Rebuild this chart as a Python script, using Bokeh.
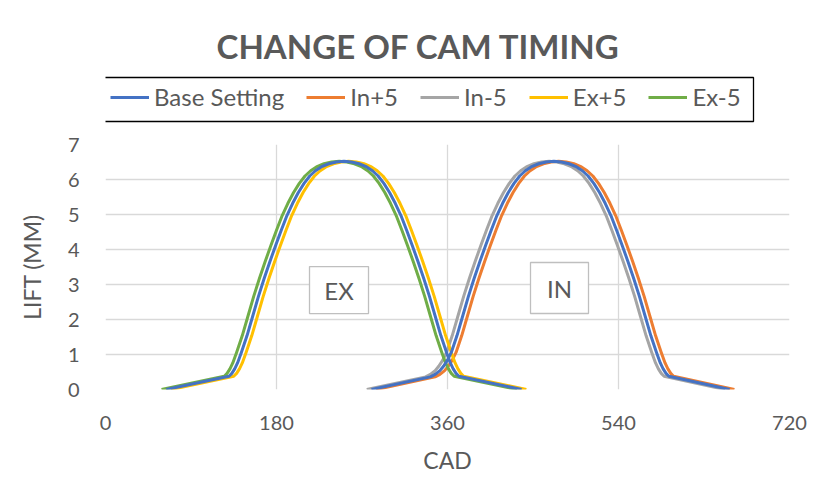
from bokeh.plotting import figure
from bokeh.models import Legend, LegendItem, Label, FixedTicker, Range1d
from bokeh.layouts import column
from bokeh.embed import file_html
from bokeh.resources import INLINE

# ---- data ----
ex_lift = [0, 0.38, 0.46, 0.59, 0.76, 1.06, 1.54, 2.10, 2.66, 3.17, 3.65, 4.11, 4.55, 4.97, 5.32, 5.63,
           5.89, 6.10, 6.25, 6.36, 6.45, 6.50, 6.52,
           6.50, 6.45, 6.36, 6.25, 6.10, 5.89, 5.63, 5.32, 4.97, 4.55, 4.11, 3.65, 3.17, 2.66, 2.10,
           1.54, 1.06, 0.76, 0.59, 0.46, 0.38, 0]
in_lift = [0, 0.36, 0.43, 0.54, 0.67, 0.84, 1.06, 1.54, 2.10, 2.66, 3.17, 3.65, 4.11, 4.55, 4.97, 5.32, 5.63,
           5.89, 6.10, 6.25, 6.36, 6.45, 6.50, 6.52,
           6.50, 6.45, 6.36, 6.25, 6.10, 5.89, 5.63, 5.32, 4.97, 4.55, 4.11, 3.65, 3.17, 2.66, 2.10,
           1.54, 1.06, 0.76, 0.59, 0.46, 0.38, 0]

base_ex_cad = [64, 130, 133, 136, 139, 143, 149, 155, 161, 167, 173, 179, 185, 191, 197, 203, 209, 215, 221,
               227, 235, 243, 251,
               259, 267, 275, 281, 287, 293, 299, 305, 311, 317, 323, 329, 335, 341, 347, 353, 359, 363,
               366, 369, 372, 438]
ex_p5_cad = [69, 135, 138, 141, 144, 148, 154, 160, 166, 172, 178, 184, 190, 196, 202, 208, 214, 220, 226,
             232, 240, 248, 256,
             264, 272, 280, 286, 292, 298, 304, 310, 316, 322, 328, 334, 340, 346, 352, 358, 364, 368,
             371, 374, 377, 443]
ex_m5_cad = [59, 125, 128, 131, 134, 138, 144, 150, 156, 162, 168, 174, 180, 186, 192, 198, 204, 210, 216,
             222, 230, 238, 246,
             254, 262, 270, 276, 282, 288, 294, 300, 306, 312, 318, 324, 330, 336, 342, 348, 354, 358,
             361, 364, 367, 433]
base_in_cad = [280, 342, 347, 352, 356, 360, 364, 370, 376, 382, 388, 394, 400, 406, 412, 418, 424, 430, 436,
               442, 448, 456, 464, 472,
               480, 488, 496, 502, 508, 514, 520, 526, 532, 538, 544, 550, 556, 562, 568, 574, 580, 584,
               587, 590, 593, 657]
in_p5_cad = [285, 347, 352, 357, 361, 365, 369, 375, 381, 387, 393, 399, 405, 411, 417, 423, 429, 435, 441,
             447, 453, 461, 469, 477,
             485, 493, 501, 507, 513, 519, 525, 531, 537, 543, 549, 555, 561, 567, 573, 579, 585, 589,
             592, 595, 598, 662]
in_m5_cad = [275, 337, 342, 347, 351, 355, 359, 365, 371, 377, 383, 389, 395, 401, 407, 413, 419, 425, 431,
             437, 443, 451, 459, 467,
             475, 483, 491, 497, 503, 509, 515, 521, 527, 533, 539, 545, 551, 557, 563, 569, 575, 579,
             582, 585, 588, 652]

series_names = ["Base Setting", "In+5", "In-5", "Ex+5", "Ex-5"]
x_ticks = [0, 180, 360, 540, 720]
y_ticks = [0, 1, 2, 3, 4, 5, 6, 7]

# ---- styling ----
FONT = "Lato"
TXT = "#595959"
GRID = "#D9D9D9"
colors = {"Base Setting": "#4472C4", "In+5": "#ED7D31", "In-5": "#A5A5A5", "Ex+5": "#FFC000", "Ex-5": "#70AD47"}
W = 809
HEAD_H = 130
LEFT, RIGHT = 105, 20

# ---- header: title + legend (pixel-space figure, frame aligned with main chart) ----
hd = figure(width=W, height=HEAD_H, x_range=Range1d(LEFT, W - RIGHT), y_range=Range1d(0, HEAD_H),
            x_axis_type=None, y_axis_type=None, output_backend="svg", toolbar_location=None,
            min_border_left=LEFT, min_border_right=RIGHT, min_border_top=0, min_border_bottom=0)
hd.outline_line_color = None
hd.add_layout(Label(x=418, y=HEAD_H - 45, text="CHANGE OF CAM TIMING", text_font=FONT, text_font_size="33px",
                    text_font_style="bold", text_color=TXT, text_align="center", text_baseline="middle"))
hd.rect(x=[419], y=[HEAD_H - 99], width=668, height=44, fill_color="white", line_color="black", line_width=1.3)
nan = float("nan")
proxy = {n: hd.line(x=[nan, nan], y=[nan, nan], line_color=colors[n], line_width=3) for n in series_names}
legend = Legend(items=[LegendItem(label=n, renderers=[proxy[n]]) for n in series_names],
                orientation="horizontal", location=(110 - LEFT, HEAD_H - 99 - 12),
                label_text_font=FONT, label_text_font_size="24px", label_text_color=TXT,
                label_height=24, glyph_width=39, glyph_height=24, label_standoff=5, spacing=22, padding=0,
                margin=0, border_line_color=None, background_fill_alpha=0)
hd.add_layout(legend)

# ---- main chart ----
p = figure(width=W, height=353, x_range=Range1d(0, 720), y_range=Range1d(0, 7),
           output_backend="svg", toolbar_location=None,
           min_border_left=LEFT, min_border_right=RIGHT, min_border_top=14, min_border_bottom=94)
p.outline_line_color = None

p.xaxis.ticker = FixedTicker(ticks=x_ticks)
p.yaxis.ticker = FixedTicker(ticks=y_ticks)
for ax in (p.xaxis[0], p.yaxis[0]):
    ax.axis_line_color = None
    ax.major_tick_line_color = None
    ax.minor_tick_line_color = None
    ax.major_label_text_font = FONT
    ax.major_label_text_font_size = "20px"
    ax.major_label_text_color = TXT
    ax.axis_label_text_font = FONT
    ax.axis_label_text_font_size = "23px"
    ax.axis_label_text_font_style = "normal"
    ax.axis_label_text_color = TXT
p.xaxis.axis_label = "CAD"
p.yaxis.axis_label = "LIFT (MM)"
p.xaxis.major_label_standoff = 20
p.yaxis.major_label_standoff = 20
p.xaxis.axis_label_standoff = 13
p.yaxis.axis_label_standoff = 19

p.xgrid.ticker = FixedTicker(ticks=x_ticks)
p.ygrid.ticker = FixedTicker(ticks=y_ticks)
p.grid.grid_line_color = GRID
p.grid.grid_line_width = 1.3

# label boxes
p.rect(x=[245.8], y=[2.84], width=59, height=47, width_units="screen", height_units="screen",
       fill_color="white", line_color="#BFBFBF", line_width=1.3)
p.rect(x=[477.9], y=[2.9], width=58, height=51, width_units="screen", height_units="screen",
       fill_color="white", line_color="#BFBFBF", line_width=1.3)
p.add_layout(Label(x=245.8, y=2.84, text="EX", text_font=FONT, text_font_size="24px", text_color=TXT,
                   text_align="center", text_baseline="middle"))
p.add_layout(Label(x=477.9, y=2.9, text="IN", text_font=FONT, text_font_size="24px", text_color=TXT,
                   text_align="center", text_baseline="middle"))

lw = 3
p.line(in_p5_cad, in_lift, line_color=colors["In+5"], line_width=lw, line_join="round")
p.line(in_m5_cad, in_lift, line_color=colors["In-5"], line_width=lw, line_join="round")
p.line(ex_p5_cad, ex_lift, line_color=colors["Ex+5"], line_width=lw, line_join="round")
p.line(ex_m5_cad, ex_lift, line_color=colors["Ex-5"], line_width=lw, line_join="round")
p.line(base_ex_cad, ex_lift, line_color=colors["Base Setting"], line_width=lw, line_join="round")
p.line(base_in_cad, in_lift, line_color=colors["Base Setting"], line_width=lw, line_join="round")

layout = column(hd, p, spacing=0)
open("out.html", "w").write(file_html(layout, INLINE))
